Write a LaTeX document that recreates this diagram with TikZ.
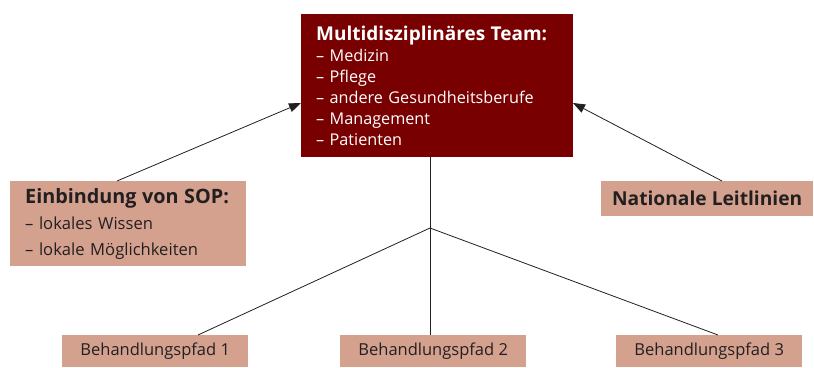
\documentclass[tikz,border=0pt]{standalone}
\usepackage{fontspec}
\setmainfont{Open Sans}
\usetikzlibrary{arrows.meta}
\definecolor{darkred}{HTML}{780000}
\definecolor{salmon}{HTML}{D4A18F}
\definecolor{txt}{HTML}{231F20}
\begin{document}
\begin{tikzpicture}[x=1pt,y=-1pt,
  mainbox/.style={fill=darkred,text=white,anchor=north west,inner sep=0pt,
    minimum width=272pt,minimum height=143pt,text width=242pt,align=left,
    font=\fontsize{16.2}{21}\selectfont},
  lightbox/.style={fill=salmon,text=txt,anchor=north west,inner sep=0pt},
  behbox/.style={lightbox,minimum width=186pt,minimum height=32pt,
    font=\fontsize{16.5}{18}\selectfont},
  conn/.style={draw=txt,line width=0.8pt},
  arr/.style={conn,-{Triangle[length=12pt,width=9pt]}}]
\useasboundingbox (0,0) rectangle (814,367);
\node[mainbox] (team) at (301,14) {\textbf{\fontsize{19}{21}\selectfont Multidisziplinäres Team:}\\
– Medizin\\ – Pflege\\ – andere Gesundheitsberufe\\ – Management\\ – Patienten};
\node[lightbox,minimum width=236pt,minimum height=85pt,text width=206pt,align=left,
  font=\fontsize{16.6}{26}\selectfont] (sop) at (10,181)
  {\textbf{\fontsize{19.8}{26}\selectfont Einbindung von SOP:}\\ – lokales Wissen\\ – lokale Möglichkeiten};
\node[lightbox,minimum width=212pt,minimum height=35pt,font=\bfseries\fontsize{19.2}{22}\selectfont] (nat) at (601,181) {Nationale Leitlinien};
\node[behbox] (b1) at (62,335) {Behandlungspfad 1};
\node[behbox] (b2) at (340,335) {Behandlungspfad 2};
\node[behbox] (b3) at (616,335) {Behandlungspfad 3};
\coordinate (j) at (430,228);
\coordinate (sopt) at (117,181);
\coordinate (natt) at (722,181);
\coordinate (tl) at (301,103);
\coordinate (tr) at (573,103);
\draw[arr] (sopt) -- (tl);
\draw[arr] (natt) -- (tr);
\draw[conn] (team.south -| j) -- (b2.north -| j);
\draw[conn] (j) -- (b1.north -| 198,0);
\draw[conn] (j) -- (b3.north -| 718,0);
\end{tikzpicture}
\end{document}
